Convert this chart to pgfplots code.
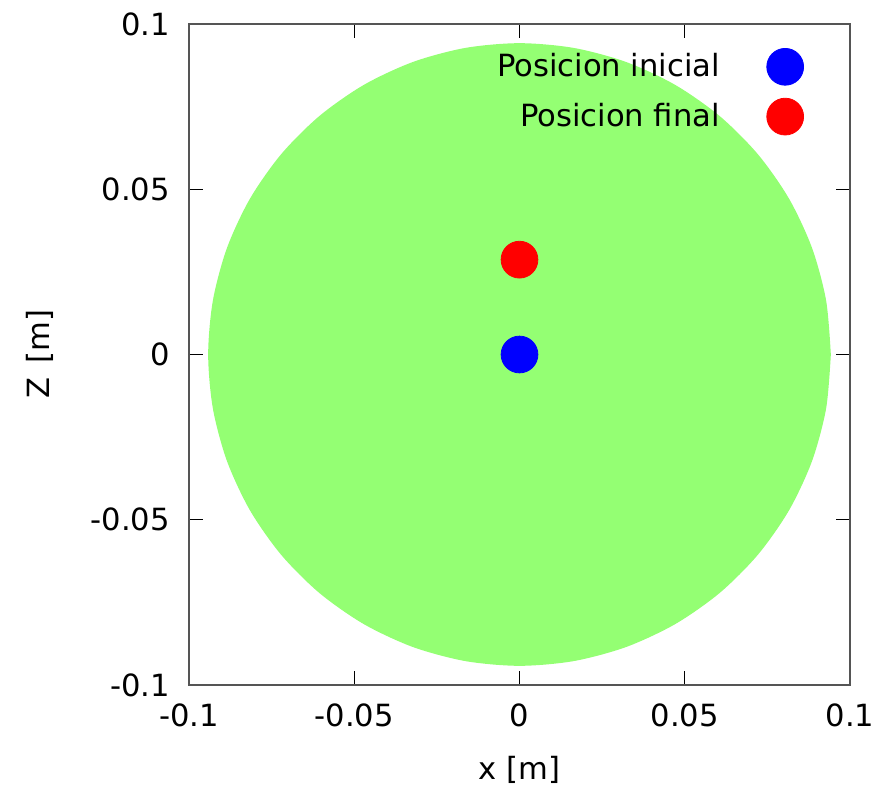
\documentclass[border=0pt]{standalone}
\usepackage{fontspec}
\setmainfont{DejaVu Sans}
\usepackage{pgfplots}
\pgfplotsset{compat=1.18}
\definecolor{circgreen}{RGB}{148,255,115}
\definecolor{boxgray}{RGB}{85,85,85}
\begin{document}
\begin{tikzpicture}
\begin{axis}[
  scale only axis, width=330.5pt, height=330.5pt,
  xmin=-0.1, xmax=0.1, ymin=-0.1, ymax=0.1,
  xtick={-0.1,-0.05,0,0.05,0.1}, ytick={-0.1,-0.05,0,0.05,0.1},
  xticklabels={-0.1,-0.05,0,0.05,0.1}, yticklabels={-0.1,-0.05,0,0.05,0.1},
  scaled ticks=false,
  tick align=inside, major tick length=7pt,
  tick style={black, line width=0.7pt},
  axis line style={boxgray, line width=1pt},
  font=\fontsize{15.3}{18}\selectfont,
  ticklabel style={font=\fontsize{15.3}{18}\selectfont},
  yticklabel style={xshift=-6pt},
  xticklabel style={yshift=-6pt},
  xlabel={x [m]}, ylabel={Z\hspace{0.15em} [m]},
  every axis x label/.style={at={(axis description cs:0.5,-0.1286)}, anchor=center},
  every axis y label/.style={at={(axis description cs:-0.2254,0.5)}, rotate=90, anchor=center},
  legend style={draw=none, fill=none, at={(axis description cs:1,1)}, xshift=-20pt, yshift=-10pt, anchor=north east, font=\fontsize{15.3}{18}\selectfont, column sep=21.5pt, row sep=6.5pt},
  legend cell align=right,
  legend plot pos=right,
]
\addplot[draw=none, fill=circgreen, smooth, forget plot] coordinates {
(0.0942,0) (0.09277,0.01636) (0.08852,0.03222) (0.08158,0.0471) (0.07216,0.06055) (0.06055,0.07216) (0.0471,0.08158) (0.03222,0.08852) (0.01636,0.09277)
(0,0.0942) (-0.01636,0.09277) (-0.03222,0.08852) (-0.0471,0.08158) (-0.06055,0.07216) (-0.07216,0.06055) (-0.08158,0.0471) (-0.08852,0.03222) (-0.09277,0.01636)
(-0.0942,0) (-0.09277,-0.01636) (-0.08852,-0.03222) (-0.08158,-0.0471) (-0.07216,-0.06055) (-0.06055,-0.07216) (-0.0471,-0.08158) (-0.03222,-0.08852) (-0.01636,-0.09277)
(0,-0.0942) (0.01636,-0.09277) (0.03222,-0.08852) (0.0471,-0.08158) (0.06055,-0.07216) (0.07216,-0.06055) (0.08158,-0.0471) (0.08852,-0.03222) (0.09277,-0.01636) (0.0942,0)
};
\addplot[only marks, mark=*, mark size=9.2pt, color=blue] coordinates {(0,0)};
\addlegendentry{Posicion inicial}
\addplot[only marks, mark=*, mark size=9.2pt, color=red] coordinates {(0,0.0287)};
\addlegendentry{Posicion final}
\end{axis}
\pgfresetboundingbox
\path ([shift={(-94.5pt,-52pt)}]current axis.south west) rectangle ([shift={(19.5pt,12pt)}]current axis.north east);
\end{tikzpicture}
\end{document}
